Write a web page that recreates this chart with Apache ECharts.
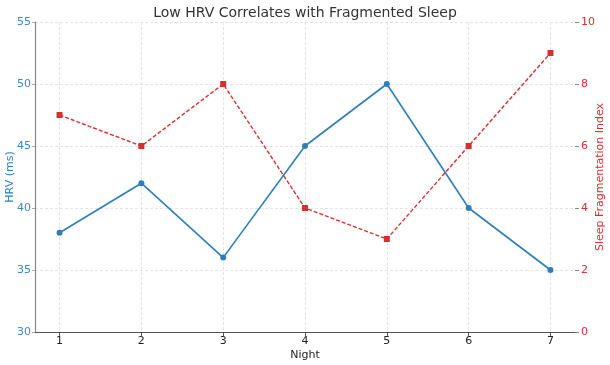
<!DOCTYPE html>
<html><head><meta charset="utf-8">
<script src="https://cdn.jsdelivr.net/npm/echarts@6/dist/echarts.min.js"></script>
<style>html,body{margin:0;padding:0;background:#fff}#c{width:610px;height:365px}</style>
</head><body><div id="c"></div>
<script>
const nights = [1, 2, 3, 4, 5, 6, 7];
const hrv = [38, 42, 36, 45, 50, 40, 35];
const fragmentation = [7, 6, 8, 4, 3, 6, 9];
const title = 'Low HRV Correlates with Fragmented Sleep';

const blue = '#2e7fb8';
const red = '#d62f2f';
const font = 'DejaVu Sans';
const chart = echarts.init(document.getElementById('c'));
chart.setOption({
  animation: false,
  textStyle: { fontFamily: font },
  title: { text: title, left: 'center', top: 1, textStyle: { fontFamily: font, fontSize: 14, fontWeight: 'normal', color: '#333' } },
  grid: { left: 35, right: 35, top: 22, bottom: 33, containLabel: false, outerBoundsMode: 'none' },
  xAxis: {
    type: 'value', min: 0.7, max: 7.3,
    name: 'Night', nameLocation: 'middle', nameGap: 18, nameMoveOverlap: false,
    nameTextStyle: { fontFamily: font, fontSize: 11, color: '#222' },
    axisLine: { lineStyle: { color: '#555', width: 1.2 } },
    axisTick: { customValues: nights, length: 4, lineStyle: { color: '#555' } },
    axisLabel: { customValues: nights, color: '#222', fontSize: 11, margin: 4 },
    splitLine: { show: true, lineStyle: { color: '#ddd', type: [3, 2], width: 0.8 } }
  },
  yAxis: [{
    type: 'value', min: 30, max: 55, interval: 5,
    name: 'HRV (ms)', nameLocation: 'middle', nameGap: 19, nameMoveOverlap: false,
    nameTextStyle: { fontFamily: font, fontSize: 11, color: blue },
    axisLine: { show: true, lineStyle: { color: '#888', width: 1.2 } },
    axisTick: { show: true, length: 3, lineStyle: { color: '#aaa' } },
    axisLabel: { color: '#3a8ac8', fontSize: 11, margin: 4 },
    splitLine: { show: true, lineStyle: { color: '#ddd', type: [3, 2], width: 0.8 } }
  }, {
    type: 'value', min: 0, max: 10, interval: 2,
    name: 'Sleep Fragmentation Index', nameLocation: 'middle', nameGap: 20, nameRotate: 90, nameMoveOverlap: false,
    nameTextStyle: { fontFamily: font, fontSize: 11, color: red },
    axisLine: { show: false },
    axisTick: { show: true, length: 4, lineStyle: { color: '#888' } },
    axisLabel: { color: red, fontSize: 11, margin: 6 },
    splitLine: { show: false }
  }],
  series: [{
    type: 'line', yAxisIndex: 0,
    data: nights.map((n, i) => [n, hrv[i]]),
    symbol: 'circle', symbolSize: 6,
    lineStyle: { color: blue, width: 1.6 },
    itemStyle: { color: blue }
  }, {
    type: 'line', yAxisIndex: 1,
    data: nights.map((n, i) => [n, fragmentation[i]]),
    symbol: 'rect', symbolSize: 6,
    lineStyle: { color: red, width: 1.4, type: [4, 2] },
    itemStyle: { color: red }
  }]
});
</script></body></html>
